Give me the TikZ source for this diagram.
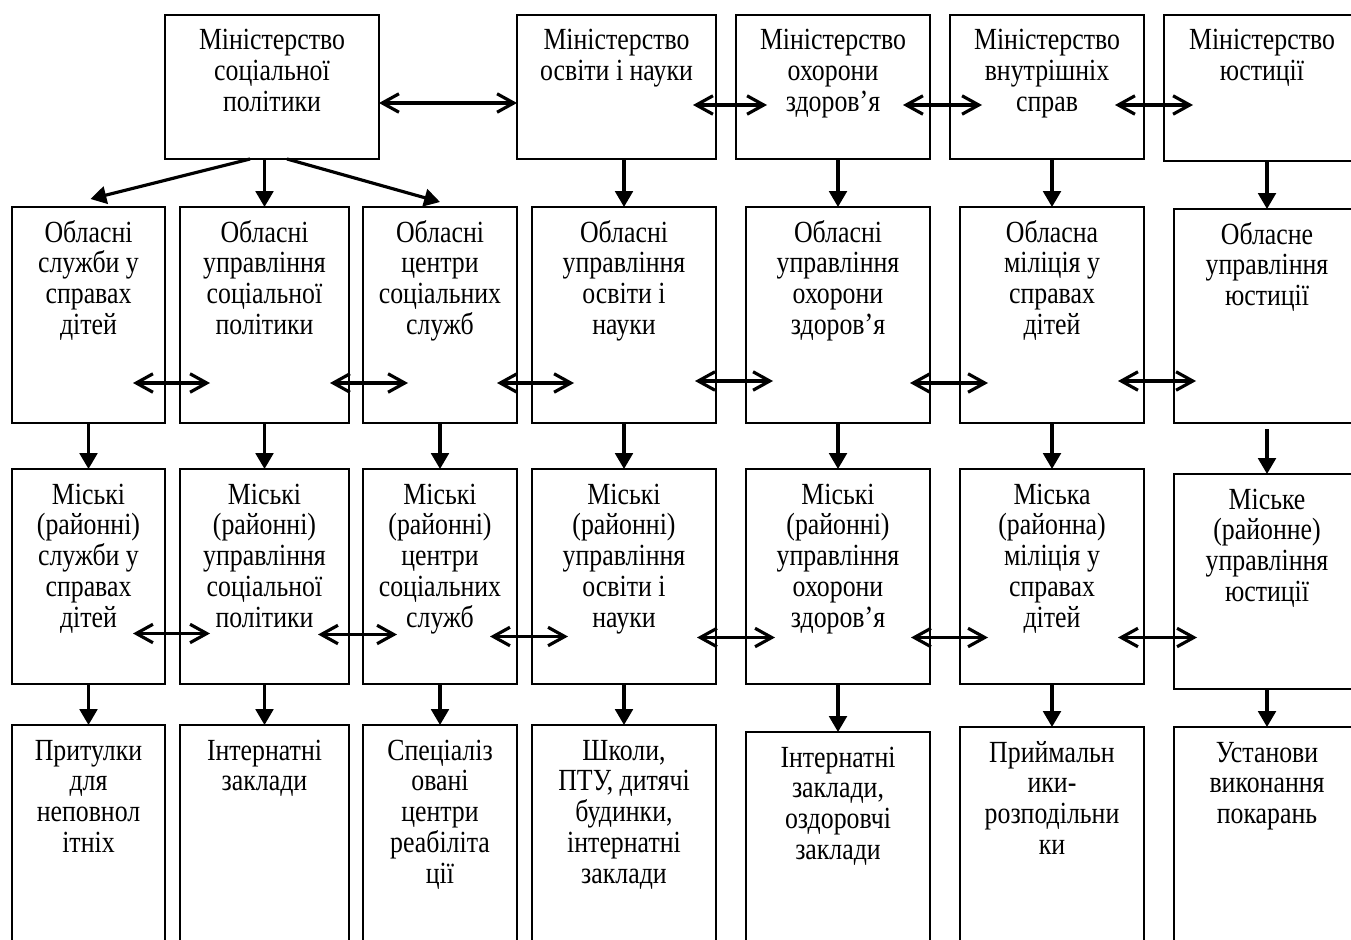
\documentclass[tikz,border=0pt]{standalone}
\usepackage{fontspec}
\setmainfont[FakeStretch=0.84]{Liberation Serif}
\usetikzlibrary{calc,arrows.meta}
\newlength\unitpx
\setlength\unitpx{0.02cm}
\tikzset{
  box/.style={draw,line width=1.1pt,inner sep=0pt,outer sep=0pt,anchor=north west},
  dn/.style={-{Triangle[length=9pt,width=10pt]},line width=1.8pt},
  dbl/.style={{Straight Barb[length=9.5pt,width=10.5pt]}-{Straight Barb[length=9.5pt,width=10.5pt]},line width=1.8pt}
}
% box text: fixed size, top aligned
\newcommand\bx[3]{\parbox[c][#2\unitpx][t]{#1\unitpx}{\centering\fontsize{17.5pt}{17.6pt}\selectfont
  \lineskiplimit=-\maxdimen\rule{0pt}{35\unitpx}#3\par}}

\begin{document}
\begin{tikzpicture}[x=0.02cm,y=-0.02cm]
\useasboundingbox (0,0) rectangle (1351,939);
% ministries
\node[box] (m1) at (165,15) {\bx{214}{144}{Міністерство\\соціальної\\політики}};
\node[box] (m2) at (517,15) {\bx{199}{144}{Міністерство\\освіти і науки}};
\node[box] (m3) at (736,15) {\bx{194}{144}{Міністерство\\охорони\\здоров’я}};
\node[box] (m4) at (950,15) {\bx{194}{144}{Міністерство\\внутрішніх\\справ}};
\node[box] (m5) at (1164,15) {\bx{196}{146}{Міністерство\\юстиції}};
% oblast level
\node[box] (r2c1) at (12,207) {\bx{153}{216}{Обласні\\служби у\\справах\\дітей}};
\node[box] (r2c2) at (180,207) {\bx{169}{216}{Обласні\\управління\\соціальної\\політики}};
\node[box] (r2c3) at (363,207) {\bx{154}{216}{Обласні\\центри\\соціальних\\служб}};
\node[box] (r2c4) at (532,207) {\bx{184}{216}{Обласні\\управління\\освіти і\\науки}};
\node[box] (r2c5) at (746,207) {\bx{184}{216}{Обласні\\управління\\охорони\\здоров’я}};
\node[box] (r2c6) at (960,207) {\bx{184}{216}{Обласна\\міліція у\\справах\\дітей}};
\node[box] (r2c7) at (1174,209) {\bx{186}{214}{Обласне\\управління\\юстиції}};
% city level
\node[box] (r3c1) at (12,469) {\bx{153}{215}{Міські\\(районні)\\служби у\\справах\\дітей}};
\node[box] (r3c2) at (180,469) {\bx{169}{215}{Міські\\(районні)\\управління\\соціальної\\політики}};
\node[box] (r3c3) at (363,469) {\bx{154}{215}{Міські\\(районні)\\центри\\соціальних\\служб}};
\node[box] (r3c4) at (532,469) {\bx{184}{215}{Міські\\(районні)\\управління\\освіти і\\науки}};
\node[box] (r3c5) at (746,469) {\bx{184}{215}{Міські\\(районні)\\управління\\охорони\\здоров’я}};
\node[box] (r3c6) at (960,469) {\bx{184}{215}{Міська\\(районна)\\міліція у\\справах\\дітей}};
\node[box] (r3c7) at (1174,474) {\bx{186}{215}{Міське\\(районне)\\управління\\юстиції}};
% institutions
\node[box] (r4c1) at (12,725) {\bx{153}{230}{Притулки\\для\\неповнол\\ітніх}};
\node[box] (r4c2) at (180,725) {\bx{169}{230}{Інтернатні\\заклади}};
\node[box] (r4c3) at (363,725) {\bx{154}{230}{Спеціаліз\\овані\\центри\\реабіліта\\ції}};
\node[box] (r4c4) at (532,725) {\bx{184}{230}{Школи,\\ПТУ, дитячі\\будинки,\\інтернатні\\заклади}};
\node[box] (r4c5) at (746,732) {\bx{184}{230}{Інтернатні\\заклади,\\оздоровчі\\заклади}};
\node[box] (r4c6) at (960,727) {\bx{184}{230}{Приймальн\\ики-\\розподільни\\ки}};
\node[box] (r4c7) at (1174,727) {\bx{186}{230}{Установи\\виконання\\покарань}};

% links between neighbours (kept level)
\foreach \a/\b/\l/\r/\dy in {m1/m2/0/0/16,m2/m3/-23/31/18,m3/m4/-27/32/18,m4/m5/-29/29/18,
    r2c1/r2c2/-32/30/68,r2c2/r2c3/-19/45/68,r2c3/r2c4/-20/42/68,
    r2c4/r2c5/-21/27/66,r2c5/r2c6/-20/28/68,r2c6/r2c7/-26/22/66,
    r3c1/r3c2/-32/30/57,r3c2/r3c3/-31/34/58,r3c3/r3c4/-27/36/60,
    r3c4/r3c5/-19/29/61,r3c5/r3c6/-19/28/61,r3c6/r3c7/-26/23/61}{
  \coordinate (s) at ($(\a.east)+(\l,\dy)$);
  \coordinate (e) at ($(\b.west)+(\r,0)$);
  \draw[dbl] (s) -- (e |- s);
}

% down arrows
\draw[dn] ($(m1.south)+(-22,0)$) -- ($(r2c1.north)+(2,-8)$);
\draw[dn] (r2c2.north |- m1.south) -- (r2c2.north);
\draw[dn] ($(m1.south)+(15,0)$) -- ($(r2c3.north)+(0,-5)$);
\draw[dn] (r2c4.north |- m2.south) -- (r2c4.north);
\draw[dn] (r2c5.north |- m3.south) -- (r2c5.north);
\draw[dn] (r2c6.north |- m4.south) -- (r2c6.north);
\draw[dn] (r2c7.north |- m5.south) -- (r2c7.north);
\foreach \c in {1,...,6}{
  \draw[dn] (r2c\c.south) -- (r3c\c.north);
}
\draw[dn] ($(r2c7.south)+(0,6)$) -- (r3c7.north);
\foreach \c in {1,...,7}{
  \draw[dn] (r3c\c.south) -- (r4c\c.north);
}
\end{tikzpicture}
\end{document}
